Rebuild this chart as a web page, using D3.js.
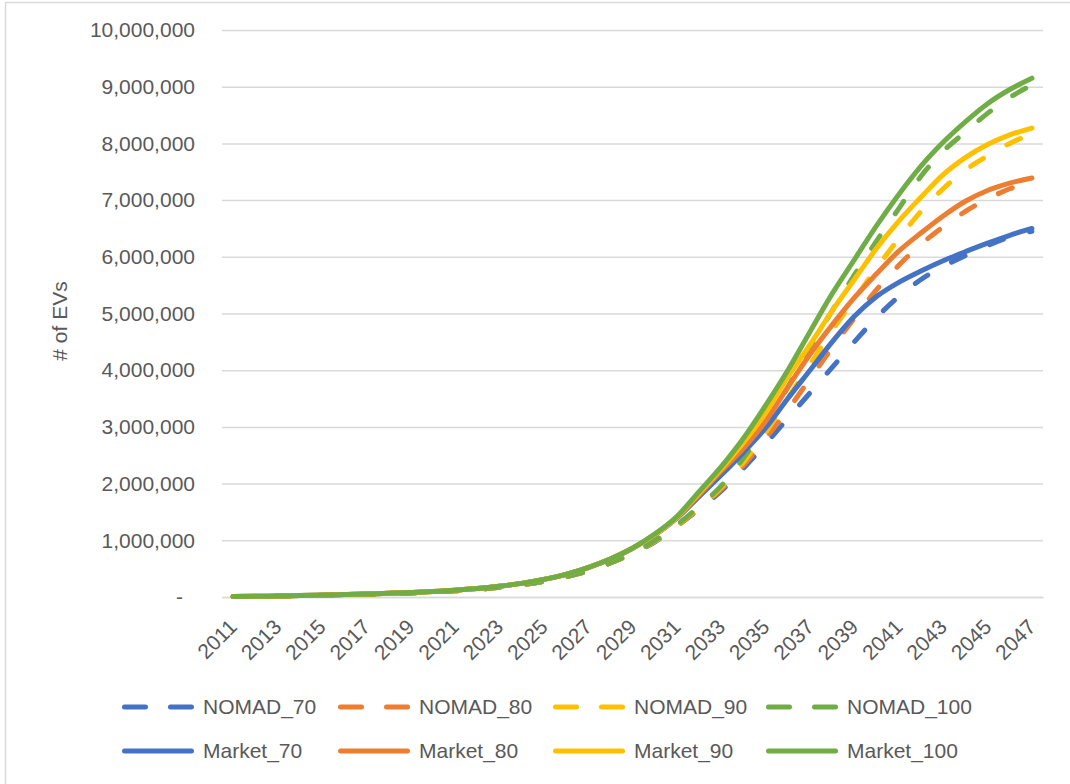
<!DOCTYPE html>
<html>
<head>
<meta charset="utf-8">
<script src="https://cdn.jsdelivr.net/npm/d3@7"></script>
<style>
  html, body { margin: 0; padding: 0; background: #ffffff; }
  svg { display: block; font-family: "Liberation Sans", Arial, sans-serif; }
</style>
</head>
<body>
<svg id="chart" width="1070" height="784"></svg>
<script>
// Model years on the category axis
const years = [2011, 2012, 2013, 2014, 2015, 2016, 2017, 2018, 2019, 2020,
               2021, 2022, 2023, 2024, 2025, 2026, 2027, 2028, 2029, 2030,
               2031, 2032, 2033, 2034, 2035, 2036, 2037, 2038, 2039, 2040,
               2041, 2042, 2043, 2044, 2045, 2046, 2047];

// Labelled years (every second year)
const yearLabels = [2011, 2013, 2015, 2017, 2019, 2021, 2023, 2025, 2027, 2029,
                    2031, 2033, 2035, 2037, 2039, 2041, 2043, 2045, 2047];

// Value axis ticks
const yTicks = [0, 1000000, 2000000, 3000000, 4000000, 5000000,
                6000000, 7000000, 8000000, 9000000, 10000000];

// Cumulative number of EVs per scenario
const nomad70 = [7000, 11000, 16000, 22000, 30000, 38000, 47000, 58000, 72000, 88000,
                 108000, 135000, 170000, 215000, 275000, 355000, 460000, 600000, 770000, 970000,
                 1250000, 1550000, 1870000, 2270000, 2700000, 3150000, 3600000, 4050000, 4500000, 4930000,
                 5300000, 5600000, 5830000, 6020000, 6200000, 6350000, 6450000];
const nomad80 = [7000, 11000, 16000, 22000, 30000, 38000, 47000, 58000, 72000, 88000,
                 108000, 135000, 170000, 215000, 275000, 355000, 460000, 600000, 770000, 980000,
                 1250000, 1560000, 1900000, 2320000, 2800000, 3300000, 3850000, 4400000, 4920000, 5420000,
                 5850000, 6220000, 6530000, 6800000, 7020000, 7200000, 7320000];
const nomad90 = [7000, 11000, 16000, 22000, 30000, 38000, 47000, 58000, 72000, 88000,
                 108000, 135000, 170000, 215000, 275000, 355000, 460000, 600000, 770000, 980000,
                 1260000, 1580000, 1930000, 2380000, 2900000, 3500000, 4100000, 4700000, 5250000, 5800000,
                 6320000, 6800000, 7200000, 7530000, 7780000, 8000000, 8170000];
const nomad100 = [7000, 11000, 16000, 22000, 30000, 38000, 47000, 58000, 72000, 88000,
                  108000, 135000, 170000, 215000, 275000, 355000, 460000, 600000, 770000, 990000,
                  1270000, 1600000, 1960000, 2450000, 3020000, 3700000, 4400000, 5050000, 5680000, 6280000,
                  6850000, 7420000, 7860000, 8200000, 8530000, 8810000, 9030000];
const market70 = [8000, 12000, 18000, 25000, 33000, 42000, 52000, 65000, 80000, 98000,
                  120000, 150000, 190000, 240000, 310000, 400000, 520000, 670000, 860000, 1090000,
                  1390000, 1770000, 2150000, 2550000, 2980000, 3500000, 4000000, 4500000, 4950000, 5300000,
                  5550000, 5750000, 5930000, 6090000, 6240000, 6380000, 6500000];
const market80 = [8000, 12000, 18000, 25000, 33000, 42000, 52000, 65000, 80000, 98000,
                  120000, 150000, 190000, 240000, 310000, 400000, 520000, 670000, 860000, 1100000,
                  1400000, 1800000, 2220000, 2620000, 3100000, 3700000, 4280000, 4800000, 5280000, 5700000,
                  6100000, 6420000, 6720000, 6980000, 7170000, 7300000, 7390000];
const market90 = [8000, 12000, 18000, 25000, 33000, 42000, 52000, 65000, 80000, 98000,
                  120000, 150000, 190000, 240000, 310000, 400000, 520000, 670000, 860000, 1100000,
                  1410000, 1830000, 2260000, 2720000, 3250000, 3880000, 4450000, 5050000, 5600000, 6150000,
                  6630000, 7050000, 7450000, 7750000, 7980000, 8150000, 8270000];
const market100 = [8000, 12000, 18000, 25000, 33000, 42000, 52000, 65000, 80000, 98000,
                   120000, 150000, 190000, 240000, 310000, 400000, 520000, 670000, 860000, 1110000,
                   1420000, 1860000, 2300000, 2800000, 3380000, 4000000, 4680000, 5350000, 5950000, 6550000,
                   7100000, 7600000, 8020000, 8380000, 8700000, 8950000, 9150000];

const seriesNames = ["NOMAD_70", "NOMAD_80", "NOMAD_90", "NOMAD_100",
                     "Market_70", "Market_80", "Market_90", "Market_100"];
const seriesValues = [nomad70, nomad80, nomad90, nomad100,
                      market70, market80, market90, market100];
const palette = ["#4472C4", "#ED7D31", "#FFC000", "#70AD47"];

const series = seriesNames.map((name, i) => ({
  name,
  dashed: i < 4,
  color: palette[i % 4],
  values: years.map((yr, j) => ({ year: yr, value: seriesValues[i][j] }))
}));

const svg = d3.select("#chart");
const W = 1070, H = 784;
const plot = { left: 222, right: 1043, top: 30, bottom: 597 };
const textColor = "#595959";
const gridColor = "#d9d9d9";
const fontSize = 21;
const lineWidth = 5;

// Chart frame
svg.append("rect")
  .attr("x", 5.5).attr("y", 2.5)
  .attr("width", W + 20).attr("height", H + 20)
  .attr("fill", "#ffffff")
  .attr("stroke", gridColor).attr("stroke-width", 1.5);

const x = d3.scaleBand().domain(years).range([plot.left, plot.right]);
const y = d3.scaleLinear().domain([0, 10000000]).range([plot.bottom, plot.top]);
const xc = d => x(d) + x.bandwidth() / 2;

// Value axis with gridlines
const fmt = d3.format(",");
const yAxis = svg.append("g")
  .attr("transform", `translate(${plot.left},0)`)
  .call(d3.axisLeft(y)
    .tickValues(yTicks)
    .tickSize(-(plot.right - plot.left))
    .tickPadding(27)
    .tickFormat(v => v === 0 ? "-" : fmt(v)));
yAxis.select(".domain").remove();
yAxis.selectAll(".tick line").attr("stroke", gridColor).attr("stroke-width", 1.5);
yAxis.selectAll(".tick text")
  .attr("fill", textColor)
  .attr("font-size", fontSize)
  .attr("font-family", "'Liberation Sans', Arial, sans-serif")
  .attr("dx", v => v === 0 ? -12 : 0);

// Category axis
const xAxis = svg.append("g")
  .attr("transform", `translate(0,${plot.bottom})`)
  .call(d3.axisBottom(x).tickValues(yearLabels).tickSize(0));
xAxis.select(".domain").attr("stroke", gridColor).attr("stroke-width", 1.5);
xAxis.selectAll(".tick text")
  .attr("fill", textColor)
  .attr("font-size", fontSize)
  .attr("font-family", "'Liberation Sans', Arial, sans-serif")
  .attr("text-anchor", "end")
  .attr("x", 0).attr("y", 0)
  .attr("dy", "0.35em")
  .attr("transform", "translate(0,26) rotate(-45)");

// Axis title
svg.append("text")
  .attr("transform", "translate(60,321) rotate(-90)")
  .attr("text-anchor", "middle")
  .attr("dy", "0.35em")
  .attr("fill", textColor)
  .attr("font-size", fontSize)
  .text("# of EVs");

// Scenario lines
const line = d3.line()
  .x(d => xc(d.year))
  .y(d => y(d.value))
  .curve(d3.curveMonotoneX);

svg.append("g").selectAll("path")
  .data(series)
  .join("path")
  .attr("d", d => line(d.values))
  .attr("fill", "none")
  .attr("stroke", d => d.color)
  .attr("stroke-width", lineWidth)
  .attr("stroke-linecap", "round")
  .attr("stroke-linejoin", "round")
  .attr("stroke-dasharray", d => d.dashed ? "15 27" : null);

// Legend
const legendCols = [122, 338, 553, 766];
const legendRows = [707, 751];
const symLen = 72;
const legend = svg.append("g").selectAll("g")
  .data(series)
  .join("g")
  .attr("transform", (d, i) => `translate(${legendCols[i % 4]},${legendRows[Math.floor(i / 4)]})`);

legend.append("line")
  .attr("x1", 2.5).attr("x2", symLen - 2.5)
  .attr("y1", 0).attr("y2", 0)
  .attr("stroke", d => d.color)
  .attr("stroke-width", lineWidth)
  .attr("stroke-linecap", "round")
  .attr("stroke-dasharray", d => d.dashed ? "21 25" : null);

legend.append("text")
  .attr("x", symLen + 9)
  .attr("y", 0)
  .attr("dy", "0.35em")
  .attr("fill", textColor)
  .attr("font-size", fontSize)
  .text(d => d.name);
</script>
</body>
</html>
